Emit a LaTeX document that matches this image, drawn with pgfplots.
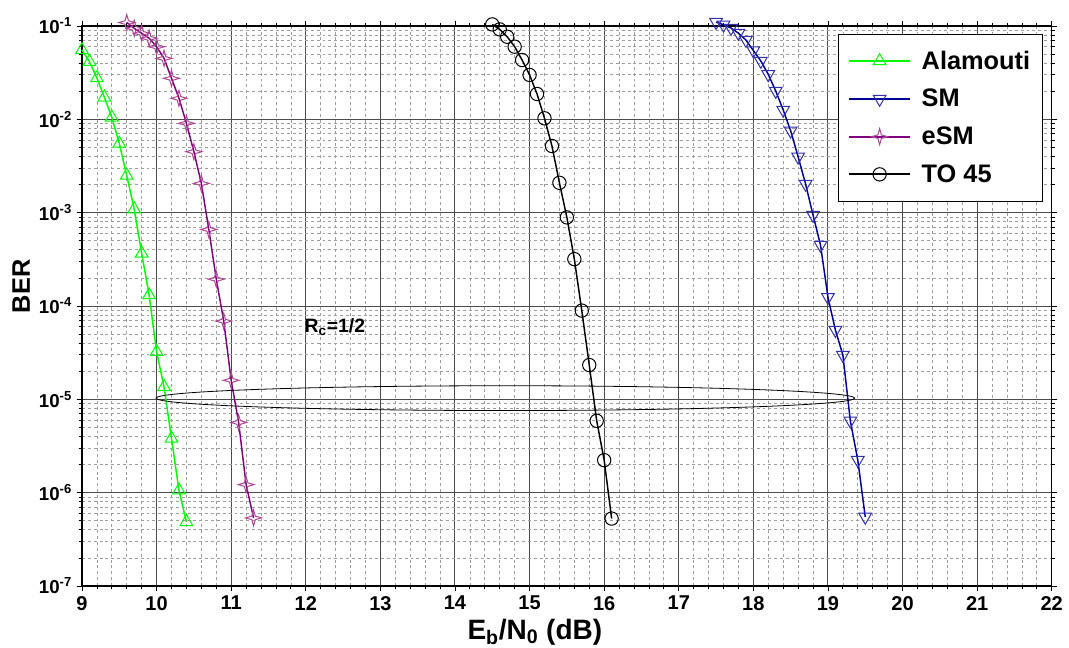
\documentclass[border=0pt]{standalone}
\usepackage{pgfplots}
\pgfplotsset{compat=1.18}
\usepackage{fontspec}
\setmainfont{Liberation Sans}
\definecolor{algreen}{RGB}{0,255,0}
\definecolor{smline}{RGB}{0,0,150}
\definecolor{smmark}{RGB}{50,50,175}
\definecolor{esmline}{RGB}{128,0,128}
\definecolor{esmmark}{RGB}{175,70,150}
\pgfdeclareplotmark{fstar}{%
  \pgfpathmoveto{\pgfqpoint{\pgfplotmarksize}{0pt}}%
  \pgfpathlineto{\pgfqpoint{0.22\pgfplotmarksize}{0.22\pgfplotmarksize}}%
  \pgfpathlineto{\pgfqpoint{0pt}{\pgfplotmarksize}}%
  \pgfpathlineto{\pgfqpoint{-0.22\pgfplotmarksize}{0.22\pgfplotmarksize}}%
  \pgfpathlineto{\pgfqpoint{-\pgfplotmarksize}{0pt}}%
  \pgfpathlineto{\pgfqpoint{-0.22\pgfplotmarksize}{-0.22\pgfplotmarksize}}%
  \pgfpathlineto{\pgfqpoint{0pt}{-\pgfplotmarksize}}%
  \pgfpathlineto{\pgfqpoint{0.22\pgfplotmarksize}{-0.22\pgfplotmarksize}}%
  \pgfpathclose
  \pgfusepathqstroke
}
\begin{document}
\begin{tikzpicture}
\begin{axis}[
  scale only axis,
  width=727.3pt, height=420pt,
  xmin=9, xmax=22,
  ymode=log, ymin=1e-7, ymax=1e-1,
  clip=false,
  xtick={9,10,...,22},
  minor x tick num=4,
  ytick={1e-7,1e-6,1e-5,1e-4,1e-3,1e-2,1e-1},
  yticklabels={10\textsuperscript{-7},10\textsuperscript{-6},10\textsuperscript{-5},10\textsuperscript{-4},10\textsuperscript{-3},10\textsuperscript{-2},10\textsuperscript{-1}},
  tick align=outside,
  major tick length=4pt,
  minor tick length=2.5pt,
  tick style={black, line width=0.6pt},
  axis line style={black, line width=0.8pt},
  grid=both,
  major grid style={black!70, line width=0.75pt},
  minor grid style={black!38, dash pattern=on 2.2pt off 2.2pt, line width=0.55pt},
  /pgf/number format/assume math mode=true,
  xticklabel style={font=\fontsize{15}{17}\selectfont\bfseries},
  yticklabel style={font=\fontsize{14}{16}\selectfont\bfseries},
  xlabel={E\textsubscript{b}/N\textsubscript{0} (dB)},
  ylabel={BER},
  xlabel style={font=\fontsize{21}{24}\selectfont\bfseries, at={(ticklabel cs:0.467)}},
  ylabel style={font=\fontsize{19}{22}\selectfont\bfseries, at={(ticklabel cs:0.535)}},
  legend style={at={(0.991,0.986)}, anchor=north east, draw=black,
    font=\fontsize{19}{22}\selectfont\bfseries, row sep=9.5pt, inner xsep=7.5pt, inner ysep=10.5pt,
    cells={anchor=west}},
  legend image code/.code={\draw[mark repeat=2,mark phase=2,#1, line width=1.3pt] plot coordinates {(0pt,0pt)(23pt,0pt)(46pt,0pt)}; \path (52pt,0pt);},
  legend cell align=left,
]
\addplot[color=algreen, line width=1.1pt, mark=triangle, mark size=5.5pt, mark options={solid, line width=0.75pt, draw=algreen, fill=none}] coordinates {
(9.0,5.53e-2) (9.1,4.14e-2) (9.2,2.77e-2) (9.3,1.72e-2) (9.4,1.05e-2) (9.5,5.5e-3)
(9.6,2.5e-3) (9.7,1.09e-3) (9.8,3.66e-4) (9.9,1.31e-4) (10.0,3.23e-5) (10.1,1.36e-5)
(10.2,3.81e-6) (10.3,1.06e-6) (10.4,4.86e-7)};
\addlegendentry{Alamouti}
\addplot[color=smline, line width=1.1pt, mark=triangle, mark size=5.5pt, mark options={solid, rotate=180, line width=0.75pt, draw=smmark, fill=none}] coordinates {
(17.5,0.110) (17.6,0.103) (17.7,0.0952) (17.8,0.0838) (17.9,0.0708) (18.0,0.0546)
(18.1,0.0422) (18.2,0.0303) (18.3,0.0201) (18.4,0.0126) (18.5,7.55e-3) (18.6,3.97e-3)
(18.7,2.03e-3) (18.8,9.42e-4) (18.9,4.5e-4) (19.0,1.24e-4) (19.1,5.52e-5) (19.2,2.98e-5)
(19.3,5.89e-6) (19.4,2.23e-6) (19.5,5.5e-7)};
\addlegendentry{SM}
\addplot[color=esmline, line width=1.1pt, mark=fstar, mark size=6pt, mark options={solid, line width=0.75pt, draw=esmmark, fill=none}] coordinates {
(9.6,0.109) (9.7,0.0945) (9.8,0.0836) (9.9,0.074) (10.0,0.060) (10.1,0.045)
(10.2,0.0275) (10.3,0.0168) (10.4,9.06e-3) (10.5,4.5e-3) (10.6,2.06e-3) (10.7,6.6e-4)
(10.8,1.94e-4) (10.9,6.9e-5) (11.0,1.6e-5) (11.1,5.65e-6) (11.2,1.22e-6) (11.3,5.37e-7)};
\addlegendentry{eSM}
\addplot[color=black, line width=1.1pt, mark=o, mark size=5pt, mark options={solid, line width=0.75pt, fill=none}] coordinates {
(14.5,0.104) (14.6,0.092) (14.7,0.0767) (14.8,0.060) (14.9,0.0432) (15.0,0.0299)
(15.1,0.0187) (15.2,0.01026) (15.3,5.18e-3) (15.4,2.09e-3) (15.5,8.9e-4) (15.6,3.18e-4)
(15.7,8.93e-5) (15.8,2.33e-5) (15.9,5.89e-6) (16.0,2.23e-6) (16.1,5.28e-7)};
\addlegendentry{TO 45}
\draw[black, line width=0.6pt] (axis cs:14.675,1.03e-5) ellipse [x radius=262pt, y radius=9.3pt];
\node[font=\fontsize{14.5}{16}\selectfont\bfseries] at (axis cs:12.39,5.9e-5) {R\textsubscript{c}=1/2};
\end{axis}
\pgfresetboundingbox
\path (-61.5pt,-46.5pt) rectangle (740.25pt,439.5pt);
\end{tikzpicture}
\end{document}
